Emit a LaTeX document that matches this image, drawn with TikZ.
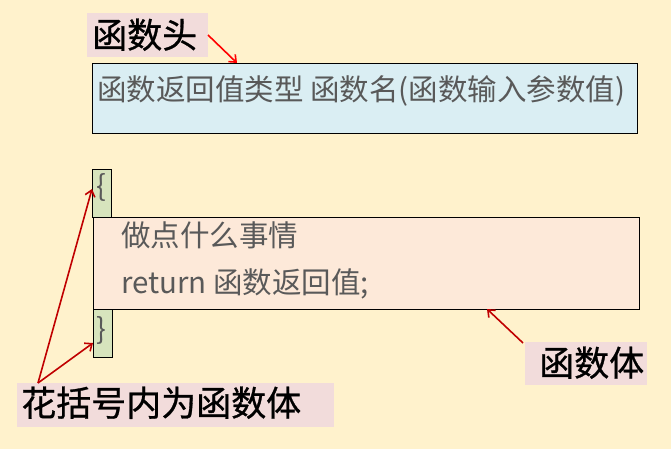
\documentclass[tikz,border=0pt]{standalone}
\usepackage{fontspec}
\setmainfont{Noto Sans CJK SC}
\newfontfamily\lblfont[FakeBold=0.8]{Noto Sans CJK SC}
\usetikzlibrary{arrows.meta}
\definecolor{bgc}{HTML}{FFF2CC}
\definecolor{lblpink}{HTML}{F2DCDB}
\definecolor{headblue}{HTML}{DAEEF3}
\definecolor{bodypeach}{HTML}{FDE9D9}
\definecolor{bracegreen}{HTML}{D7E4BD}
\definecolor{greytext}{HTML}{595959}
\definecolor{darkred}{HTML}{C00000}
\tikzset{
  box/.style={draw=black, line width=1pt, inner sep=0pt, anchor=north west},
  lblbox/.style={fill=lblpink, inner sep=0pt, anchor=north west},
  codetext/.style={text=greytext, font=\fontsize{29.5}{35}\selectfont, inner sep=0pt, anchor=base west},
  lbltext/.style={text=black, font=\lblfont\fontsize{35}{42}\selectfont, inner sep=0pt, anchor=base west},
  redarrow/.style={draw=darkred, line width=1.6pt, -{Straight Barb[length=6pt,width=10pt]}},
}
\begin{document}
\begin{tikzpicture}[x=1pt,y=-1pt]
\fill[bgc] (0,0) rectangle (671,449);
\useasboundingbox (0,0) rectangle (671,449);

% label boxes
\node[lblbox, minimum width=121, minimum height=44] (lhead) at (87,13) {};
\node[lbltext] (lheadt) at (92,48) {函数头};
\node[lblbox, minimum width=122, minimum height=43] (lbody) at (525,342) {};
\node[lbltext] (lbodyt) at (539,376) {函数体};
\node[lblbox, minimum width=317, minimum height=44] (lbrace) at (17,383) {};
\node[lbltext] (lbracet) at (21,416) {花括号内为函数体};

% header box
\node[box, fill=headblue, minimum width=545, minimum height=70] (head) at (92,63) {};
\node[codetext] (headt) at (97,101) {函数返回值类型 函数名(函数输入参数值)};

% braces
\node[box, fill=bracegreen, minimum width=19, minimum height=48] (bopen) at (92,169) {};
\node[text=greytext, font=\fontsize{29}{35}\selectfont, inner sep=0pt] (bopent) at (101,187) {\{};
\node[box, fill=bracegreen, minimum width=19, minimum height=48] (bclose) at (93,309) {};
\node[text=greytext, font=\fontsize{29}{35}\selectfont, inner sep=0pt] (bcloset) at (101,330) {\}};

% body box
\node[box, fill=bodypeach, minimum width=546, minimum height=92] (body) at (93,217) {};
\node[codetext] (bodyt1) at (121,246) {做点什么事情};
\node[codetext] (bodyt2) at (121,293) {return 函数返回值;};

% arrow coordinates
\coordinate (a1s) at (208,35);
\coordinate (a1e) at (237,63);
\coordinate (a2s) at (523,343);
\coordinate (a2e) at (487,309);
\coordinate (a3s) at (38,383);
\coordinate (a3e) at (92,189);
\coordinate (a4e) at (93,343);

\draw[redarrow, draw=red] (a1s) -- (a1e);
\draw[redarrow] (a2s) -- (a2e);
\draw[redarrow] (a3s) -- (a3e);
\draw[redarrow] (a3s) -- (a4e);
\end{tikzpicture}
\end{document}
